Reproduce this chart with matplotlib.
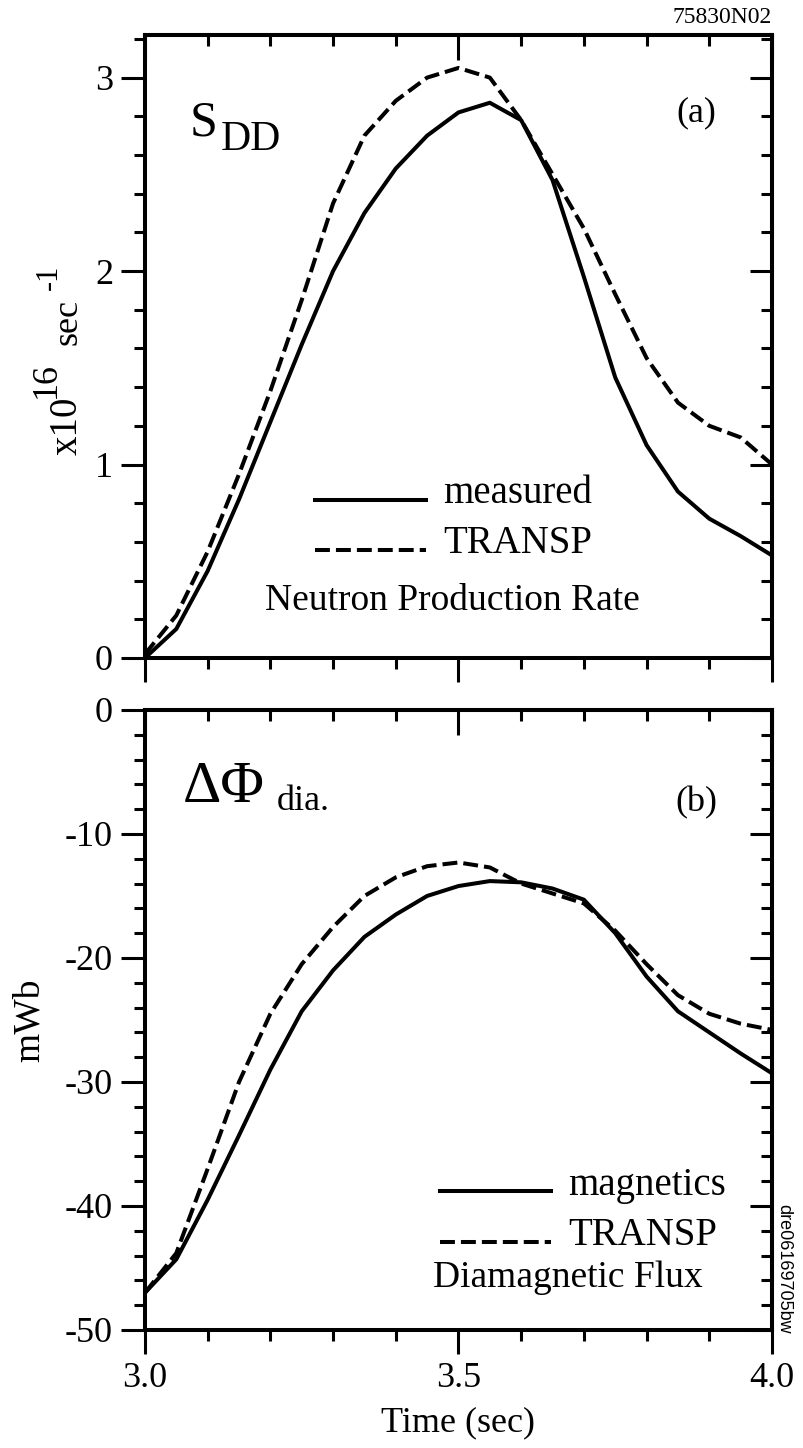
import matplotlib.pyplot as plt
from matplotlib.ticker import MultipleLocator, NullFormatter
from matplotlib.legend_handler import HandlerLine2D

plt.rcParams['font.family'] = ['Liberation Serif', 'DejaVu Serif']
plt.rcParams['axes.unicode_minus'] = False

# time base (sec)
t = [3.00, 3.05, 3.10, 3.15, 3.20, 3.25, 3.30, 3.35, 3.40, 3.45, 3.50,
     3.55, 3.60, 3.65, 3.70, 3.75, 3.80, 3.85, 3.90, 3.95, 4.00]

# (a) neutron production rate, x1e16 /sec
sdd_measured = [0.00, 0.15, 0.45, 0.82, 1.22, 1.62, 2.00, 2.30, 2.53, 2.70, 2.82,
                2.87, 2.78, 2.47, 1.97, 1.45, 1.10, 0.86, 0.72, 0.63, 0.53]
sdd_transp = [0.02, 0.22, 0.55, 0.95, 1.38, 1.85, 2.35, 2.70, 2.88, 3.00, 3.05,
              3.00, 2.78, 2.50, 2.22, 1.88, 1.55, 1.32, 1.20, 1.14, 1.00]

# (b) diamagnetic flux, mWb
flux_magnetics = [-47.0, -44.3, -39.5, -34.3, -29.0, -24.3, -21.0, -18.3, -16.5, -15.0, -14.2,
                  -13.8, -13.9, -14.4, -15.3, -18.0, -21.5, -24.3, -26.0, -27.7, -29.3]
flux_transp = [-47.0, -43.8, -37.0, -30.0, -24.5, -20.5, -17.5, -15.0, -13.5, -12.6, -12.3,
               -12.7, -14.0, -14.8, -15.6, -17.8, -20.5, -23.0, -24.5, -25.3, -25.8]

LW = 2.9
FS = 26
DASH = (3.7, 1.5)
W, H = 804, 1448


class BaselineLine(HandlerLine2D):
    # legend sample sits on the text baseline, like the original
    def create_artists(self, legend, orig_handle, xdescent, ydescent,
                       width, height, fontsize, trans):
        arts = super().create_artists(legend, orig_handle, xdescent, ydescent,
                                      width, height, fontsize, trans)
        for a in arts:
            a.set_ydata([y - 0.27 * fontsize for y in a.get_ydata()])
        return arts


def style(ax, ystep, yminor, show_xlabels):
    ax.set_xlim(3.0, 4.0)
    ax.xaxis.set_major_locator(MultipleLocator(0.5))
    ax.xaxis.set_minor_locator(MultipleLocator(0.1))
    ax.yaxis.set_major_locator(MultipleLocator(ystep))
    ax.yaxis.set_minor_locator(MultipleLocator(yminor))
    for s in ax.spines.values():
        s.set_linewidth(LW)
    ax.tick_params(which='major', direction='out', length=17, width=2.2,
                   labelsize=FS, pad=6, labelbottom=show_xlabels)
    ax.tick_params(which='minor', direction='out', length=8, width=2.2)

    top = ax.secondary_xaxis('top')
    top.xaxis.set_major_locator(MultipleLocator(0.5))
    top.xaxis.set_minor_locator(MultipleLocator(0.1))
    top.xaxis.set_major_formatter(NullFormatter())
    top.tick_params(which='major', direction='in', length=18, width=2.2)
    top.tick_params(which='minor', direction='in', length=8, width=2.2)
    top.spines['top'].set_linewidth(LW)

    right = ax.secondary_yaxis('right')
    right.yaxis.set_major_locator(MultipleLocator(ystep))
    right.yaxis.set_minor_locator(MultipleLocator(yminor))
    right.yaxis.set_major_formatter(NullFormatter())
    right.tick_params(which='major', direction='in', length=16, width=2.2)
    right.tick_params(which='minor', direction='in', length=8, width=2.2)
    right.spines['right'].set_linewidth(LW)


def legend(ax, x, y):
    ax.legend(loc='center left', bbox_to_anchor=(x, y), frameon=False,
              fontsize=28, handlelength=2.85, handletextpad=0.45,
              labelspacing=0.35, borderpad=0, borderaxespad=0,
              handler_map={plt.Line2D: BaselineLine()})


def vtext(px, py, s, size):
    # rotated piece of a label, anchored at the start of its baseline
    fig.text(px / W, 1 - py / H, s, rotation=90, rotation_mode='anchor',
             ha='left', va='baseline', fontsize=size)


fig = plt.figure(figsize=(8.04, 14.48), dpi=100)

# ===== (a) Neutron production rate =====
ax1 = fig.add_axes([0.1803, 0.5456, 0.7799, 0.4302])
ax1.plot(t, sdd_measured, color='black', lw=LW, label='measured')
ax1.plot(t, sdd_transp, color='black', lw=LW, dashes=DASH, label='TRANSP')
ax1.set_ylim(0, 3.22)
style(ax1, 1, 0.2, False)
legend(ax1, 0.271, 0.224)
ax1.text(0.072, 0.839, 'S', transform=ax1.transAxes, fontsize=36)
ax1.text(0.121, 0.815, 'DD', transform=ax1.transAxes, fontsize=30)
ax1.text(0.879, 0.875, '(a)', transform=ax1.transAxes, fontsize=FS,
         ha='center', va='center')
ax1.text(0.49, 0.092, 'Neutron Production Rate', transform=ax1.transAxes,
         fontsize=27, ha='center', va='center')

# y label of (a): x10^16 sec^-1 built from pieces
vtext(77, 455, 'x10', 28)
vtext(55, 398, '16', 26)
vtext(77, 345, 'sec', 26)
vtext(57, 290, '-1', 22)

# ===== (b) Diamagnetic flux =====
ax2 = fig.add_axes([0.1803, 0.0815, 0.7799, 0.4282])
ax2.plot(t, flux_magnetics, color='black', lw=LW, label='magnetics')
ax2.plot(t, flux_transp, color='black', lw=LW, dashes=DASH, label='TRANSP')
ax2.set_ylim(-50, 0)
style(ax2, 10, 2, True)
ax2.set_ylabel('mWb', fontsize=27, labelpad=13)
ax2.set_xlabel('Time (sec)', fontsize=FS, labelpad=8)
legend(ax2, 0.470, 0.193)
ax2.text(0.061, 0.852, '\u0394\u03a6', transform=ax2.transAxes, fontsize=43)
ax2.text(0.21, 0.839, 'dia.', transform=ax2.transAxes, fontsize=26)
ax2.text(0.879, 0.85, '(b)', transform=ax2.transAxes, fontsize=FS,
         ha='center', va='center')
ax2.text(0.675, 0.084, 'Diamagnetic Flux', transform=ax2.transAxes,
         fontsize=27, ha='center', va='center')

fig.text(0.9602, 0.9876, '75830N02', fontsize=17, ha='right', va='center')
fig.text(0.975, 0.124, 'dre06169705bw', fontsize=13, family='Liberation Sans',
         rotation=270, ha='center', va='center')

fig.savefig('out.png', dpi=100)
